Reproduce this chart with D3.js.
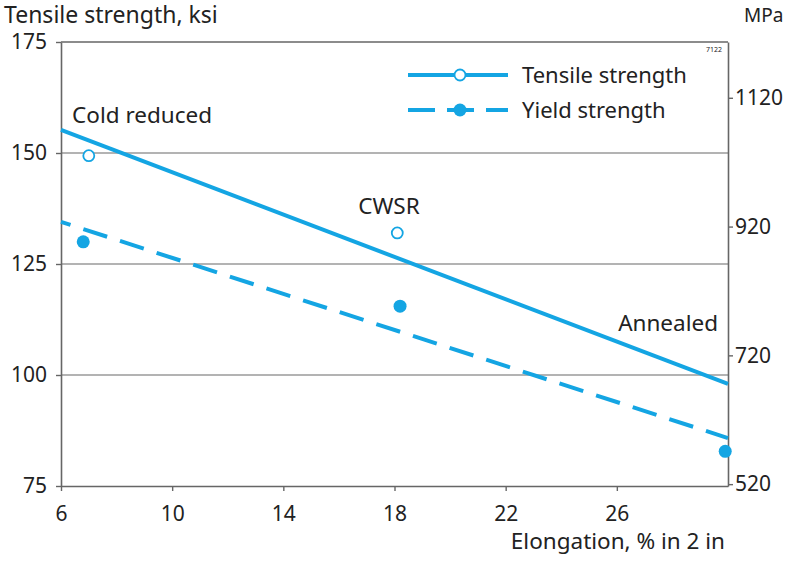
<!DOCTYPE html>
<html>
<head>
<meta charset="utf-8">
<script src="https://cdn.jsdelivr.net/npm/d3@7"></script>
<style>
  body { margin: 0; background: #fff; }
  text { font-family: "Noto Sans", "Open Sans", sans-serif; fill: #222; }
</style>
</head>
<body>
<div id="chart"></div>
<script>
// elongation (%) vs strength (ksi)
var xTicks = [6, 10, 14, 18, 22, 26];
var ksiTicks = [75, 100, 125, 150, 175];
var mpaTicks = [520, 720, 920, 1120];
var gridKsi = [100, 125, 150];

var tensileFit = [[6, 155.2], [30, 98]];
var yieldFit = [[6, 134.5], [30, 85.8]];
var tensilePts = [[7, 149.4], [18.1, 132]];
var yieldPts = [[6.8, 130], [18.2, 115.5], [29.9, 82.8]];

var conditions = [
  { name: "Cold reduced", x: 6.4, y: 156.8, anchor: "start" },
  { name: "CWSR", x: 17.8, y: 136.3, anchor: "middle" },
  { name: "Annealed", x: 29.64, y: 109.8, anchor: "end" }
];

var KSI_TO_MPA = 6.895;
var blue = "#14a5e3";

var margin = { top: 42, right: 61, bottom: 76, left: 61 };
var W = 789, H = 562;
var width = W - margin.left - margin.right;
var height = H - margin.top - margin.bottom;

var svg = d3.select("#chart")
  .append("svg")
    .attr("width", W)
    .attr("height", H);

var g = svg.append("g")
    .attr("transform", "translate(" + margin.left + "," + margin.top + ")");

var x = d3.scaleLinear().domain([6, 30]).range([0, width]);
var y = d3.scaleLinear().domain([75, 175]).range([height, 0]);
var yMpa = d3.scaleLinear().domain([75 * KSI_TO_MPA, 175 * KSI_TO_MPA]).range([height, 0]);

// gridlines
g.append("g")
  .selectAll("line")
  .data(gridKsi)
  .enter()
  .append("line")
    .attr("x1", 0)
    .attr("x2", width)
    .attr("y1", function(d) { return y(d); })
    .attr("y2", function(d) { return y(d); })
    .style("stroke", "#9a9a9a")
    .style("stroke-width", 1.6);

// frame top
g.append("line")
  .attr("x1", 0).attr("x2", width)
  .attr("y1", 0).attr("y2", 0)
  .style("stroke", "#666").style("stroke-width", 1.6);

function styleAxis(sel) {
  sel.select(".domain").style("stroke", "#666").style("stroke-width", 1.6);
  sel.selectAll(".tick line").style("stroke", "#666").style("stroke-width", 1.4);
  sel.selectAll(".tick text")
    .style("font-size", "21px")
    .style("font-family", '"Noto Sans", sans-serif')
    .style("fill", "#222");
}

g.append("g")
  .attr("transform", "translate(0," + height + ")")
  .call(d3.axisBottom(x).tickValues(xTicks).tickSize(5).tickSizeOuter(0).tickPadding(15).tickFormat(d3.format("d")))
  .call(styleAxis);

g.append("g")
  .call(d3.axisLeft(y).tickValues(ksiTicks).tickSize(5).tickSizeOuter(0).tickPadding(9).tickFormat(d3.format("d")))
  .call(styleAxis);

g.append("g")
  .attr("transform", "translate(" + width + ",0)")
  .call(d3.axisRight(yMpa).tickValues(mpaTicks).tickSize(5).tickSizeOuter(0).tickPadding(2).tickFormat(d3.format("d")))
  .call(styleAxis);

// axis titles
svg.append("text")
  .attr("x", 4).attr("y", 23)
  .style("font-size", "23px")
  .text("Tensile strength, ksi");

svg.append("text")
  .attr("x", 744).attr("y", 22)
  .style("font-size", "19px")
  .text("MPa");

svg.append("text")
  .attr("x", 725).attr("y", 549)
  .attr("text-anchor", "end")
  .style("font-size", "22.5px")
  .text("Elongation, % in 2 in");

svg.append("text")
  .attr("x", 722).attr("y", 52)
  .attr("text-anchor", "end")
  .style("font-size", "7px")
  .text("7122");

// fit lines
var line = d3.line()
  .x(function(d) { return x(d[0]); })
  .y(function(d) { return y(d[1]); });

g.append("path")
  .datum(tensileFit)
  .attr("d", line)
  .style("fill", "none")
  .style("stroke", blue)
  .style("stroke-width", 4);

g.append("path")
  .datum(yieldFit)
  .attr("d", line)
  .style("fill", "none")
  .style("stroke", blue)
  .style("stroke-width", 4)
  .style("stroke-dasharray", "25,13.5")
  .style("stroke-dashoffset", 15);

// points
g.append("g")
  .selectAll("circle")
  .data(tensilePts)
  .enter()
  .append("circle")
    .attr("cx", function(d) { return x(d[0]); })
    .attr("cy", function(d) { return y(d[1]); })
    .attr("r", 5.5)
    .style("fill", "#fff")
    .style("stroke", blue)
    .style("stroke-width", 1.8);

g.append("g")
  .selectAll("circle")
  .data(yieldPts)
  .enter()
  .append("circle")
    .attr("cx", function(d) { return x(d[0]); })
    .attr("cy", function(d) { return y(d[1]); })
    .attr("r", 6.5)
    .style("fill", blue);

// condition labels
g.append("g")
  .selectAll("text")
  .data(conditions)
  .enter()
  .append("text")
    .attr("x", function(d) { return x(d.x); })
    .attr("y", function(d) { return y(d.y); })
    .attr("text-anchor", function(d) { return d.anchor; })
    .style("font-size", "22.5px")
    .text(function(d) { return d.name; });

// legend
var legend = svg.append("g").attr("transform", "translate(408,0)");
var legendItems = [
  { label: "Tensile strength", y: 75, dash: null, open: true },
  { label: "Yield strength", y: 110, dash: "27,12", open: false }
];

legendItems.forEach(function(d) {
  legend.append("line")
    .attr("x1", 0).attr("x2", 100)
    .attr("y1", d.y).attr("y2", d.y)
    .style("stroke", blue)
    .style("stroke-width", 4)
    .style("stroke-dasharray", d.dash);
  legend.append("circle")
    .attr("cx", 52).attr("cy", d.y)
    .attr("r", d.open ? 5.5 : 6.5)
    .style("fill", d.open ? "#fff" : blue)
    .style("stroke", d.open ? blue : "none")
    .style("stroke-width", 1.8);
  legend.append("text")
    .attr("x", 114).attr("y", d.y + 8)
    .style("font-size", "22px")
    .text(d.label);
});
</script>
</body>
</html>
